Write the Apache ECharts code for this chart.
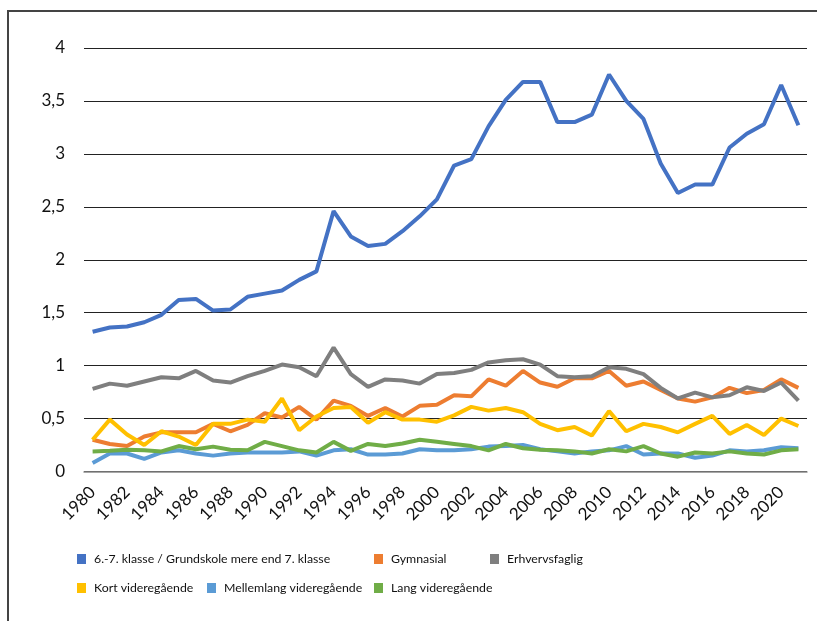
<!DOCTYPE html>
<html>
<head>
<meta charset="utf-8">
<script src="https://cdn.jsdelivr.net/npm/echarts@6/dist/echarts.min.js"></script>
<style>
  html, body { margin: 0; padding: 0; background: #fff; }
  #chart { width: 817px; height: 621px; }
</style>
</head>
<body>
<div id="chart"></div>
<script>
// years on the x axis
const years = ['1980','1981','1982','1983','1984','1985','1986','1987','1988','1989',
  '1990','1991','1992','1993','1994','1995','1996','1997','1998','1999',
  '2000','2001','2002','2003','2004','2005','2006','2007','2008','2009',
  '2010','2011','2012','2013','2014','2015','2016','2017','2018','2019',
  '2020','2021'];

// values
const grundskole = [1.32,1.36,1.37,1.41,1.48,1.62,1.63,1.52,1.53,1.65,1.68,1.71,1.81,1.89,
  2.46,2.22,2.13,2.15,2.27,2.41,2.57,2.89,2.95,3.26,3.51,3.68,3.68,3.30,3.30,3.37,
  3.75,3.50,3.33,2.91,2.63,2.71,2.71,3.06,3.19,3.28,3.65,3.27];
const gymnasial = [0.30,0.26,0.24,0.33,0.37,0.37,0.37,0.45,0.38,0.44,0.55,0.51,0.61,0.49,
  0.67,0.62,0.525,0.60,0.52,0.62,0.63,0.72,0.71,0.87,0.81,0.95,0.84,0.80,
  0.88,0.88,0.95,0.81,0.85,0.77,0.69,0.66,0.70,0.79,0.74,0.77,0.87,0.79];
const erhverv = [0.78,0.83,0.81,0.85,0.89,0.88,0.95,0.86,0.84,0.90,0.95,1.01,0.985,0.90,
  1.17,0.92,0.80,0.87,0.86,0.83,0.92,0.93,0.96,1.03,1.05,1.06,1.01,0.90,
  0.89,0.90,0.985,0.97,0.92,0.79,0.69,0.745,0.70,0.72,0.795,0.76,0.84,0.67];
const kort = [0.30,0.49,0.35,0.25,0.38,0.33,0.25,0.45,0.45,0.49,0.47,0.69,0.39,0.52,
  0.60,0.61,0.46,0.56,0.49,0.49,0.47,0.53,0.61,0.575,0.60,0.56,0.45,0.39,
  0.42,0.34,0.57,0.38,0.45,0.42,0.37,0.45,0.525,0.355,0.44,0.345,0.50,0.43];
const mellemlang = [0.08,0.17,0.17,0.12,0.18,0.20,0.17,0.15,0.17,0.18,0.18,0.18,0.19,0.15,
  0.20,0.21,0.16,0.16,0.17,0.21,0.20,0.20,0.21,0.235,0.24,0.25,0.21,0.19,
  0.17,0.19,0.20,0.24,0.16,0.17,0.17,0.13,0.15,0.20,0.19,0.20,0.23,0.22];
const lang = [0.19,0.195,0.205,0.20,0.19,0.24,0.21,0.235,0.205,0.20,0.28,0.24,0.20,0.18,
  0.28,0.195,0.26,0.24,0.265,0.30,0.28,0.26,0.24,0.20,0.26,0.22,0.205,0.20,
  0.19,0.17,0.21,0.19,0.24,0.17,0.14,0.18,0.17,0.19,0.17,0.16,0.20,0.21];

const names = ['6.-7. klasse / Grundskole mere end 7. klasse', 'Gymnasial', 'Erhvervsfaglig',
  'Kort videregående', 'Mellemlang videregående', 'Lang videregående'];
const values = [grundskole, gymnasial, erhverv, kort, mellemlang, lang];
const colors = ['#4472C4', '#ED7D31', '#7F7F7F', '#FFC000', '#5B9BD5', '#70AD47'];

// legend item positions (two rows, like the original)
const legendPos = [[72, 548], [369, 548], [485, 548], [72, 577], [202, 577], [369, 577]];

let chart = echarts.init(document.getElementById('chart'));

let option = {
  animation: false,
  color: colors,
  grid: { left: 84, top: 48, width: 723, height: 423.5 },
  legend: names.map((n, i) => ({
    data: [n],
    left: legendPos[i][0],
    top: legendPos[i][1],
    icon: 'rect',
    itemWidth: 9,
    itemHeight: 10,
    itemGap: 0,
    textStyle: { fontFamily: 'Lato', fontSize: 12.3, color: '#111', padding: [0, 0, 0, 3] }
  })),
  xAxis: {
    type: 'category',
    data: years,
    boundaryGap: true,
    axisLine: { lineStyle: { color: '#8a8a8a', width: 1.5 } },
    axisTick: { show: false },
    axisLabel: {
      interval: 1,
      rotate: 45,
      margin: 18,
      fontFamily: 'Lato',
      fontSize: 17,
      color: '#111'
    }
  },
  yAxis: {
    type: 'value',
    min: 0,
    max: 4,
    interval: 0.5,
    axisLine: { show: false },
    axisTick: { show: false },
    splitLine: { lineStyle: { color: '#222', width: 1.2 } },
    axisLabel: {
      margin: 19,
      fontFamily: 'Lato',
      fontSize: 17,
      color: '#111',
      formatter: v => String(v).replace('.', ',')
    }
  },
  series: names.map((n, i) => ({
    name: n,
    type: 'line',
    data: values[i],
    symbol: 'none',
    lineStyle: { width: 4, color: colors[i] }
  })),
  graphic: [{
    type: 'polyline',
    shape: { points: [[8, 621], [8, 11], [817, 11]] },
    style: { stroke: '#444', lineWidth: 2, fill: null },
    silent: true
  }]
};

chart.setOption(option);
</script>
</body>
</html>
